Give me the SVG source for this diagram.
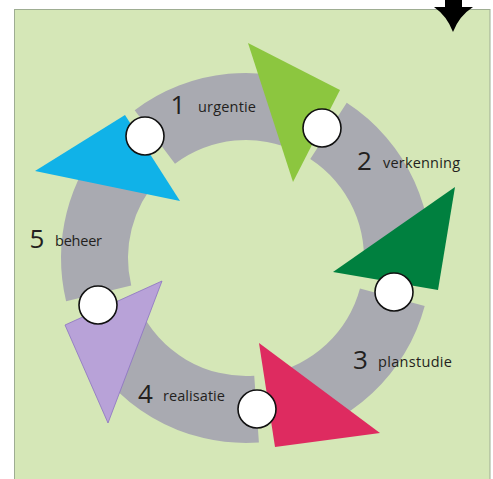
<svg xmlns="http://www.w3.org/2000/svg" width="493" height="479" viewBox="0 0 493 479">
  <style>
    .seg { fill: #A9AAB1; }
    .num { font-family: "Open Sans", "Noto Sans", sans-serif; font-size: 26px; fill: #231F20; text-anchor: middle; }
    .lbl { font-family: "Open Sans", "Noto Sans", sans-serif; font-size: 14.5px; fill: #231F20; }
    .dot { fill: #FFFFFF; stroke: #111111; stroke-width: 1.6; }
  </style>
  <rect x="0" y="0" width="493" height="479" fill="#FFFFFF"/>
  <rect x="14.5" y="9.5" width="475.5" height="480" fill="#D5E7B7" stroke="#9EAD92" stroke-width="1"/>
  <path d="M445,0 L462,0 L462,7 L473,7 Q459,16 453,32 Q447,16 434,7 L445,7 Z" fill="#000000"/>

  <g id="step1">
    <path class="seg" d="M134.67,110.26 A185,185 0 0 1 327.10,91.72 L297.73,151.94 A118,118 0 0 0 174.99,163.77 Z"/>
    <text class="num" x="178" y="113.5">1</text>
    <text class="lbl" x="198" y="112" textLength="58">urgentie</text>
  </g>
  <g id="step2">
    <path class="seg" d="M346.75,102.84 A185,185 0 0 1 429.20,283.75 L362.85,274.42 A118,118 0 0 0 310.26,159.03 Z"/>
    <text class="num" x="364.5" y="169.5">2</text>
    <text class="lbl" x="383" y="168" textLength="77">verkenning</text>
  </g>
  <g id="step3">
    <path class="seg" d="M424.70,305.88 A185,185 0 0 1 281.30,439.60 L268.51,373.83 A118,118 0 0 0 359.98,288.54 Z"/>
    <text class="num" x="360.5" y="368.5">3</text>
    <text class="lbl" x="378" y="367" textLength="74">planstudie</text>
  </g>
  <g id="step4">
    <path class="seg" d="M258.91,442.55 A185,185 0 0 1 78.33,336.18 L139.05,307.87 A118,118 0 0 0 254.23,375.71 Z"/>
    <text class="num" x="145.5" y="402.5">4</text>
    <text class="lbl" x="163" y="401" textLength="62">realisatie</text>
  </g>
  <g id="step5">
    <path class="seg" d="M66.11,301.18 A185,185 0 0 1 108.52,134.21 L158.31,179.04 A118,118 0 0 0 131.26,285.54 Z"/>
    <text class="num" x="37" y="247.5">5</text>
    <text class="lbl" x="55" y="246" textLength="47">beheer</text>
  </g>

  <g id="connectors">
    <polygon points="35,171 125,115 180,201" fill="#10B2E8"/>
    <polygon points="248,43 340,90 293,182" fill="#8CC63F"/>
    <polygon points="455,187 333,272 438,290" fill="#00803F"/>
    <polygon points="259,343 275,447 380,433" fill="#DE2B60"/>
    <polygon points="162,281 65,325 108,423" fill="#B8A2D8" stroke="#8C72C2" stroke-width="0.8"/>
    <circle class="dot" cx="145" cy="136" r="19"/>
    <circle class="dot" cx="322" cy="128" r="19"/>
    <circle class="dot" cx="394" cy="292" r="19"/>
    <circle class="dot" cx="257" cy="409" r="19"/>
    <circle class="dot" cx="98" cy="305" r="19"/>
  </g>
</svg>
